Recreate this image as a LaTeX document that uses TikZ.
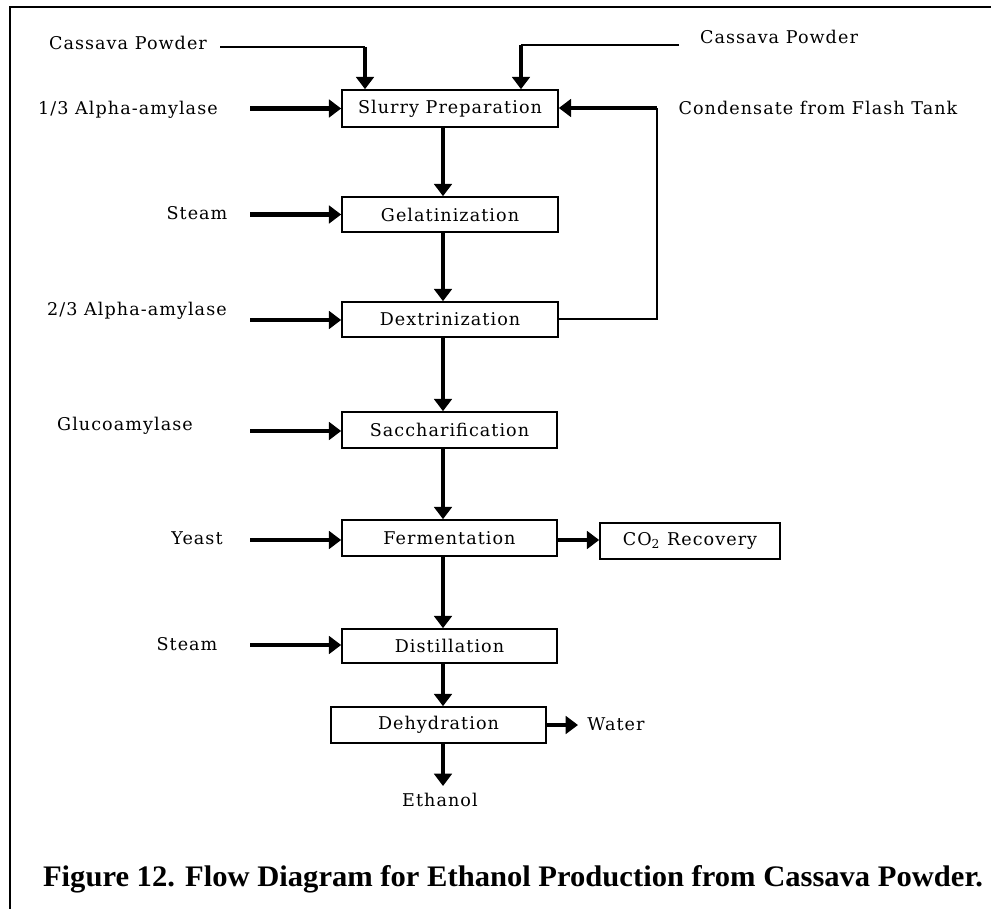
\documentclass[tikz,border=0pt]{standalone}
\usepackage{fontspec}
\setmainfont{Liberation Serif}
\newfontfamily\dfont[LetterSpace=6]{DejaVu Serif}
\usetikzlibrary{arrows.meta}
\begin{document}
\begin{tikzpicture}[x=0.02cm,y=-0.02cm,
  box/.style={draw,line width=0.9pt,inner sep=0pt,font=\dfont\fontsize{10}{12}\selectfont},
  lbl/.style={inner sep=0pt,font=\dfont\fontsize{10}{12}\selectfont},
  flow/.style={line width=2.6pt,-{Triangle[width=10pt,length=7pt]}},
  thin/.style={line width=0.85pt}]
\useasboundingbox (0,0) rectangle (991,909);
% frame
\draw[line width=1.5pt] (10,909) -- (10,7) -- (991,7);
% boxes
\node[box,minimum width=216*0.02cm,minimum height=37*0.02cm] (slurry) at (450,108.5) {Slurry Preparation};
\node[box,minimum width=216*0.02cm,minimum height=35*0.02cm] (gel) at (450,214.5) {Gelatinization};
\node[box,minimum width=216*0.02cm,minimum height=35*0.02cm] (dex) at (450,319.5) {Dextrinization};
\node[box,minimum width=215*0.02cm,minimum height=36*0.02cm] (sac) at (449.5,430) {Saccharification};
\node[box,minimum width=215*0.02cm,minimum height=36*0.02cm] (fer) at (449.5,538) {Fermentation};
\node[box,minimum width=180*0.02cm,minimum height=36*0.02cm] (co2) at (690,541) {CO\textsubscript{2} Recovery};
\node[box,minimum width=215*0.02cm,minimum height=34*0.02cm] (dis) at (449.5,646) {Distillation};
\node[box,minimum width=215*0.02cm,minimum height=36*0.02cm] (deh) at (438.5,725) {Dehydration};
% labels
\node[lbl] (cpl) at (128,43) {Cassava Powder};
\node[lbl] (cpr) at (779,37) {Cassava Powder};
\node[lbl] (a13) at (128,110) {1/3 Alpha-amylase};
\node[lbl] (st1) at (197,213) {Steam};
\node[lbl] (a23) at (137,311) {2/3 Alpha-amylase};
\node[lbl] (glu) at (125,426) {Glucoamylase};
\node[lbl] (yea) at (197,538) {Yeast};
\node[lbl] (st2) at (187,644) {Steam};
\node[lbl] (con) at (818,108) {Condensate from Flash Tank};
\node[lbl] (wat) at (616,724) {Water};
\node[lbl] (eth) at (440,800) {Ethanol};
% helper coordinates
\coordinate (col) at (443,0);
\coordinate (lin) at (250,0);
\coordinate (cl1) at (220,47);
\coordinate (cl2) at (365,47);
\coordinate (cr1) at (679,45);
\coordinate (cr2) at (521,45);
\coordinate (k1) at (657,108);
\coordinate (k2) at (657,319);
\coordinate (wend) at (578,725);
\coordinate (eend) at (443,786);
% main column
\draw[flow] (slurry.south -| col) -- (gel.north -| col);
\draw[flow] (gel.south -| col) -- (dex.north -| col);
\draw[flow] (dex.south -| col) -- (sac.north -| col);
\draw[flow] (sac.south -| col) -- (fer.north -| col);
\draw[flow] (fer.south -| col) -- (dis.north -| col);
\draw[flow] (dis.south -| col) -- (deh.north -| col);
\draw[flow] (deh.south -| col) -- (eend);
% cassava feeds
\draw[thin] (cl1) -- (cl2);
\draw[flow] (cl2) -- (slurry.north -| cl2);
\draw[thin] (cr1) -- (cr2);
\draw[flow] (cr2) -- (slurry.north -| cr2);
% left inputs
\draw[flow] (lin |- slurry) -- (slurry.west);
\draw[flow] (lin |- gel) -- (gel.west);
\draw[flow] (250,320) -- (dex.west |- 0,320);
\draw[flow] (250,431) -- (sac.west |- 0,431);
\draw[flow] (250,540) -- (fer.west |- 0,540);
\draw[flow] (250,645) -- (dis.west |- 0,645);
% condensate loop
\draw[thin] (dex.east |- k2) -- (k2) -- (k1);
\draw[flow] (k1) -- (slurry.east |- k1);
% outputs
\draw[flow] (fer.east |- 0,540) -- (co2.west |- 0,540);
\draw[flow] (deh.east) -- (wend);
% caption
\node[anchor=base,inner sep=0pt] (cap) at (513,886) {\resizebox{18.8cm}{0.42cm}{\bfseries Figure 12. Flow Diagram for Ethanol Production from Cassava Powder.}};
\end{tikzpicture}
\end{document}
